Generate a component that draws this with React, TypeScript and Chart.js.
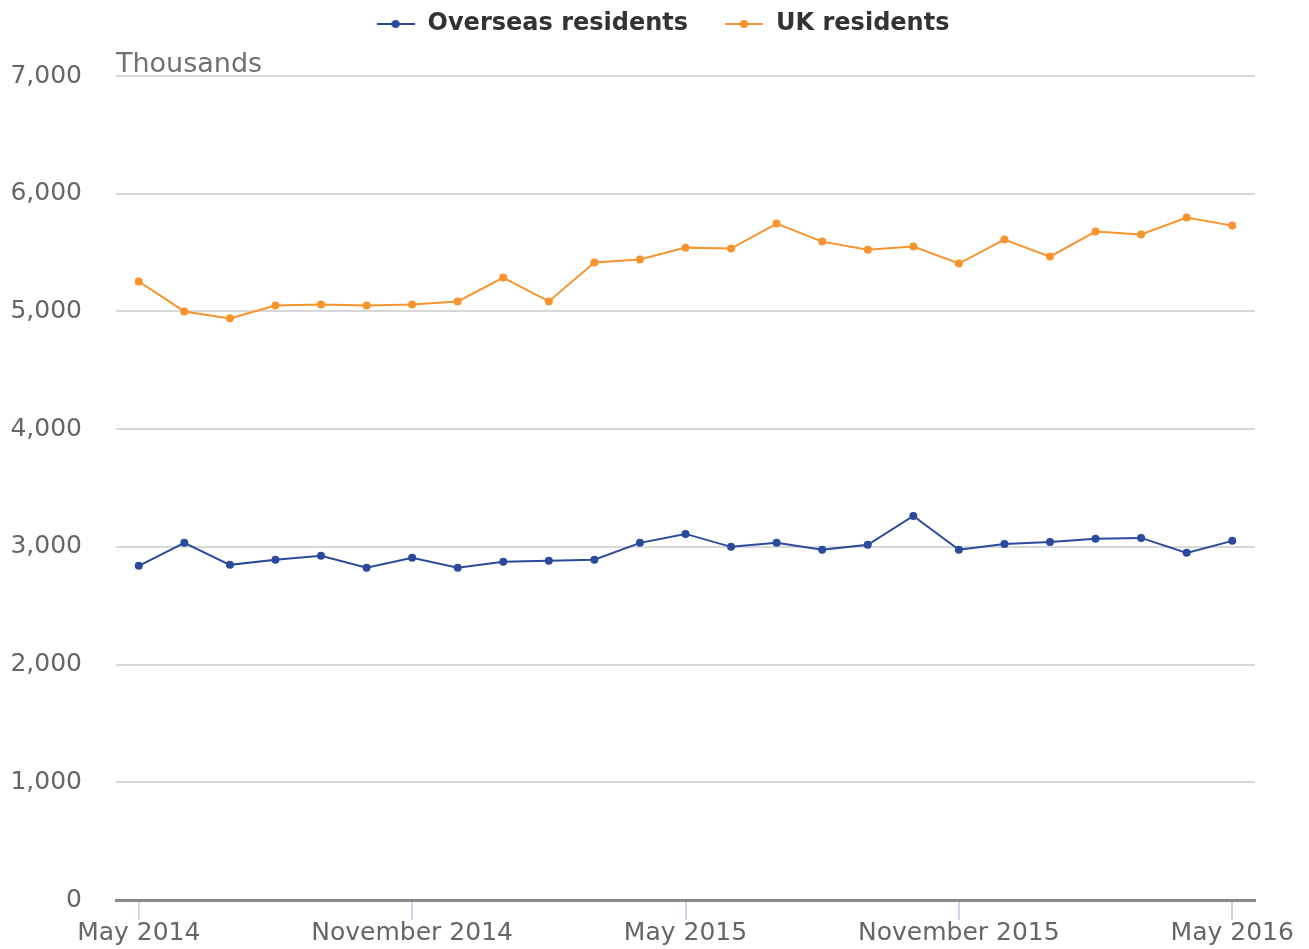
import React, { useEffect, useRef } from 'react';
import { Chart, registerables } from 'chart.js';

Chart.register(...registerables);

const months = [
  'May 2014', 'June 2014', 'July 2014', 'August 2014', 'September 2014', 'October 2014',
  'November 2014', 'December 2014', 'January 2015', 'February 2015', 'March 2015', 'April 2015',
  'May 2015', 'June 2015', 'July 2015', 'August 2015', 'September 2015', 'October 2015',
  'November 2015', 'December 2015', 'January 2016', 'February 2016', 'March 2016', 'April 2016',
  'May 2016',
];

const overseas = [
  2839, 3034, 2847, 2890, 2924, 2822, 2907, 2822, 2873, 2881, 2890, 3034,
  3110, 3000, 3034, 2975, 3017, 3263, 2975, 3025, 3042, 3068, 3076, 2949, 3051,
];

const ukResidents = [
  5254, 5000, 4941, 5051, 5059, 5051, 5059, 5085, 5288, 5085, 5415, 5441,
  5542, 5534, 5746, 5593, 5525, 5551, 5407, 5610, 5466, 5678, 5653, 5797, 5729,
];

const BLUE = '#2a4b9b';
const ORANGE = '#f7942e';
const FONT = 'DejaVu Sans';

// legend marker: short line with a dot in the middle
const legendMarker = (color: string) => {
  const c = document.createElement('canvas');
  c.width = 38; c.height = 12;
  const ctx = c.getContext('2d')!;
  ctx.strokeStyle = color; ctx.lineWidth = 2;
  ctx.beginPath(); ctx.moveTo(0, 6); ctx.lineTo(38, 6); ctx.stroke();
  ctx.fillStyle = color;
  ctx.beginPath(); ctx.arc(19, 6, 4, 0, Math.PI * 2); ctx.fill();
  return c;
};

// extra space under the legend, and nudge it a little to the right
const legendGap = {
  id: 'legendGap',
  beforeInit(chart: any) {
    const legend = chart.legend;
    if (!legend) return;
    const fit = legend.fit;
    legend.fit = function () {
      fit.call(this);
      this.height += 32;
    };
    const draw = legend.draw;
    legend.draw = function () {
      const ctx = this.ctx;
      ctx.save();
      ctx.translate(30, 2);
      draw.call(this);
      ctx.restore();
    };
  },
};

const unitLabel = {
  id: 'unitLabel',
  afterDraw(chart: any) {
    const { ctx, chartArea } = chart;
    ctx.save();
    ctx.font = `27px "${FONT}"`;
    ctx.fillStyle = '#707070';
    ctx.textAlign = 'left';
    ctx.textBaseline = 'bottom';
    ctx.fillText('Thousands', chartArea.left, chartArea.top + 2);
    ctx.restore();
  },
};

const App: React.FC = () => {
  const ref = useRef<HTMLCanvasElement>(null);
  const chartRef = useRef<Chart | null>(null);

  useEffect(() => {
    if (!ref.current) return;
    chartRef.current?.destroy();
    const markers = [legendMarker(BLUE), legendMarker(ORANGE)];
    chartRef.current = new Chart(ref.current, {
      type: 'line',
      data: {
        labels: months,
        datasets: [
          {
            label: 'Overseas residents', data: overseas,
            borderColor: BLUE, backgroundColor: BLUE, pointBackgroundColor: BLUE,
            borderWidth: 2, pointRadius: 4, pointBorderWidth: 0, tension: 0,
          },
          {
            label: 'UK residents', data: ukResidents,
            borderColor: ORANGE, backgroundColor: ORANGE, pointBackgroundColor: ORANGE,
            borderWidth: 2, pointRadius: 4, pointBorderWidth: 0, tension: 0,
          },
        ],
      },
      options: {
        responsive: true, maintainAspectRatio: false, animation: false,
        layout: { padding: { left: 10, right: 54, top: -26, bottom: 0 } },
        plugins: {
          tooltip: { enabled: false },
          legend: {
            position: 'top',
            labels: {
              color: '#333333',
              font: { family: FONT, size: 24, weight: 'bold' },
              usePointStyle: true,
              pointStyleWidth: 40,
              padding: 36,
              generateLabels: (chart: Chart) => {
                const items = Chart.defaults.plugins.legend.labels.generateLabels(chart);
                return items.map((it, i) => ({ ...it, pointStyle: markers[i] }));
              },
            },
          },
        },
        scales: {
          x: {
            offset: true,
            afterFit: (s: any) => {
              s.paddingLeft = 0; s.paddingRight = 0;
              s.getPadding = () => ({ left: 0, top: 0, right: 0, bottom: 0 });
            },
            grid: { drawOnChartArea: false, drawTicks: true, tickLength: 20, color: '#ccd6eb', lineWidth: 2 },
            border: { color: '#8a8a8a', width: 3 },
            ticks: {
              color: '#666666', font: { family: FONT, size: 25 },
              autoSkip: false, maxRotation: 0, padding: -2,
              callback: (_v, i) => (i % 6 === 0 ? months[i] : null),
            },
          },
          y: {
            min: 0, max: 7000,
            afterFit: (s: any) => { s.width = 106; },
            grid: { color: '#d8d8d8', lineWidth: 2, drawTicks: false },
            border: { display: false },
            ticks: {
              stepSize: 1000, color: '#666666', font: { family: FONT, size: 25 }, padding: 34,
              callback: v => Number(v).toLocaleString('en-GB'),
            },
          },
        },
      },
      plugins: [legendGap, unitLabel],
    });
    return () => chartRef.current?.destroy();
  }, []);

  return (
    <div style={{ position: 'absolute', left: 0, top: 0, width: 1309, height: 949, background: '#fff' }}>
      <canvas ref={ref} />
    </div>
  );
};

export default App;
